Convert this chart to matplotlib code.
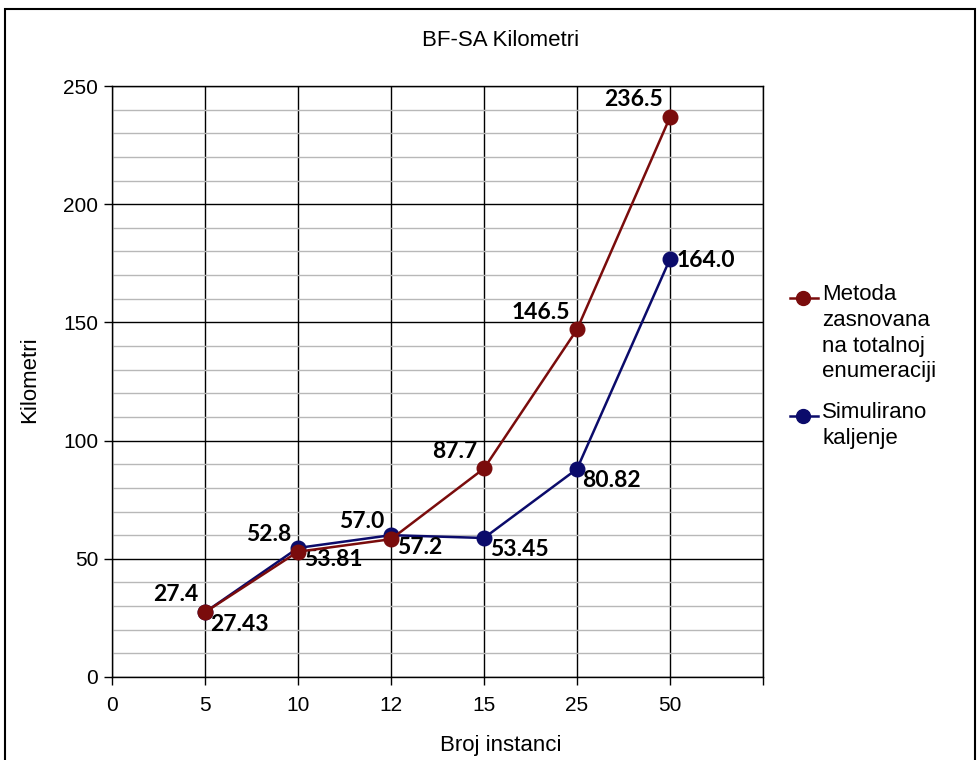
import matplotlib.pyplot as plt
from matplotlib.lines import Line2D
from matplotlib.patches import Rectangle
from matplotlib.ticker import MultipleLocator

# data
tick_labels = ['0', '5', '10', '12', '15', '25', '50']
positions = [1, 2, 3, 4, 5, 6]

red_values = [27.4, 53.0, 58.3, 88.2, 147.0, 236.8]
blue_values = [27.4, 54.6, 60.0, 58.8, 88.0, 176.8]

red_labels = ['27.4', '52.8', '57.0', '87.7', '146.5', '236.5']
blue_labels = ['27.43', '53.81', '57.2', '53.45', '80.82', '164.0']

red_name = 'Metoda\nzasnovana\nna totalnoj\nenumeraciji'
blue_name = 'Simulirano\nkaljenje'

red_color = '#7a0c0c'
blue_color = '#0b0b6b'
txt_font = 'Liberation Sans'
lbl_font = 'Lato'

fig = plt.figure(figsize=(9.77, 7.6), dpi=100)
ax = fig.add_axes([112 / 977, 1 - 677 / 760, 651 / 977, 591 / 760])

ax.plot(positions, red_values, color=red_color, lw=1.8, marker='o', ms=10.5, zorder=4)
ax.plot(positions, blue_values, color=blue_color, lw=1.8, marker='o', ms=10.5, zorder=3)

ax.set_xlim(0, 7)
ax.set_ylim(0, 250)
ax.set_xticks(range(8))
ax.set_xticklabels(tick_labels + [''], fontsize=15, family=txt_font)
ax.yaxis.set_major_locator(MultipleLocator(50))
ax.yaxis.set_minor_locator(MultipleLocator(10))
for t in ax.get_yticklabels():
    t.set_fontsize(15)
    t.set_family(txt_font)
ax.tick_params(axis='both', which='major', length=6, width=1, direction='out',
               color='black', pad=4)
ax.tick_params(axis='x', pad=8)
ax.tick_params(axis='y', which='minor', length=0)

ax.grid(True, which='minor', axis='y', color='#b8b8b8', lw=1)
ax.grid(True, which='major', axis='y', color='black', lw=1)
ax.grid(True, which='major', axis='x', color='black', lw=1)
ax.set_axisbelow(True)
for s in ax.spines.values():
    s.set_color('black')
    s.set_linewidth(1)

# data labels
for x, y, s in zip(positions, red_values, red_labels):
    ax.annotate(s, (x, y), xytext=(-5, 5), textcoords='offset points',
                ha='right', va='bottom', fontsize=16.5, fontweight='bold', family=lbl_font)
for i, (x, y, s) in enumerate(zip(positions, blue_values, blue_labels)):
    if i == len(positions) - 1:
        ax.annotate(s, (x, y), xytext=(5, -1), textcoords='offset points',
                    ha='left', va='center', fontsize=16.5, fontweight='bold', family=lbl_font)
    else:
        ax.annotate(s, (x, y), xytext=(4, -1), textcoords='offset points',
                    ha='left', va='top', fontsize=16.5, fontweight='bold', family=lbl_font)

fig.text(501 / 977, 1 - 40 / 760, 'BF-SA Kilometri', ha='center', va='center',
         fontsize=16, family=txt_font)
fig.text(501 / 977, 1 - 745 / 760, 'Broj instanci', ha='center', va='center',
         fontsize=16, family=txt_font)
fig.text(30 / 977, 1 - 380 / 760, 'Kilometri', ha='center', va='center',
         rotation=90, fontsize=16, family=txt_font)

# legend drawn by hand
for y_px, color, name in [(298, red_color, red_name), (416, blue_color, blue_name)]:
    yf = 1 - y_px / 760
    fig.add_artist(Line2D([790 / 977, 818 / 977], [yf, yf], color=color, lw=1.8,
                          transform=fig.transFigure))
    fig.add_artist(Line2D([803 / 977], [yf], color=color, marker='o', ms=10,
                          transform=fig.transFigure))
    fig.text(822 / 977, yf + 14 / 760, name, ha='left', va='top', fontsize=16,
             family=txt_font, linespacing=1.3)

# outer frame
fig.add_artist(Rectangle((5 / 977, -0.1), 970 / 977, 1.1 - 9 / 760, fill=False,
                         edgecolor='black', lw=1.5, transform=fig.transFigure))

fig.savefig('out.png', dpi=100)
